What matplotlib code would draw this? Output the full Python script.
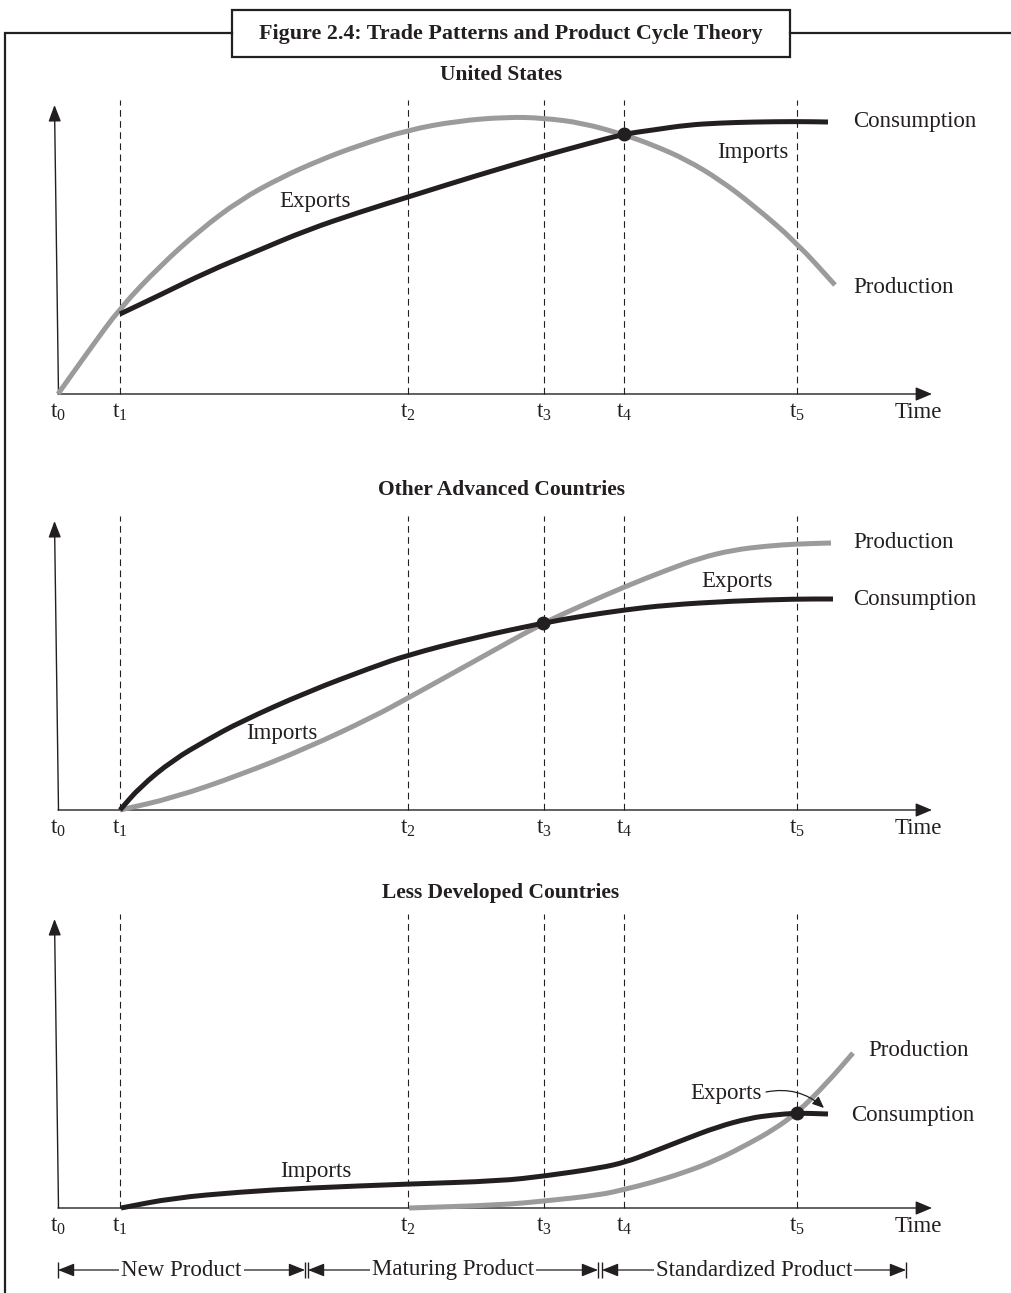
import matplotlib
matplotlib.use("Agg")
import matplotlib.pyplot as plt
from matplotlib.patches import Rectangle, PathPatch
from matplotlib.path import Path

plt.rcParams['font.family'] = ['Liberation Serif', 'DejaVu Serif']
plt.rcParams['mathtext.fontset'] = 'custom'
plt.rcParams['mathtext.rm'] = 'Liberation Serif'
plt.rcParams['mathtext.it'] = 'Liberation Serif:italic'
plt.rcParams['mathtext.bf'] = 'Liberation Serif:bold'

# ---------------- data ----------------
FIG_TITLE = "Figure 2.4: Trade Patterns and Product Cycle Theory"
panel_titles = ["United States", "Other Advanced Countries", "Less Developed Countries"]
tick_labels = [r'$\mathrm{t}_{0}$', r'$\mathrm{t}_{1}$', r'$\mathrm{t}_{2}$',
               r'$\mathrm{t}_{3}$', r'$\mathrm{t}_{4}$', r'$\mathrm{t}_{5}$']
tick_times = [0.0, 6.2, 35.0, 48.6, 56.6, 73.9]

# United States
us_prod_t = [0.0, 3.2, 6.2, 10.2, 14.2, 18.2, 22.2, 26.2, 30.2, 35.0, 39.9, 44.9,
             48.5, 52.5, 56.7, 59.5, 62.9, 66.2, 69.5, 73.8, 77.7]
us_prod_v = [0.0, 4.5, 8.6, 12.8, 16.4, 19.4, 21.6, 23.4, 24.9, 26.4, 27.3, 27.7,
             27.6, 27.1, 25.9, 24.9, 23.4, 21.4, 18.9, 15.2, 10.9]
us_cons_t = [6.2, 10.2, 14.9, 19.9, 24.9, 30.2, 35.0, 41.7, 48.5, 52.5, 56.6,
             59.5, 62.9, 66.2, 69.5, 73.8, 77.0]
us_cons_v = [8.0, 9.9, 12.2, 14.3, 16.4, 18.2, 19.7, 21.8, 23.8, 24.9, 26.0,
             26.4, 26.9, 27.1, 27.2, 27.25, 27.2]
us_cross = (56.6, 26.0)

# Other advanced countries
oa_prod_t = [6.2, 11.5, 18.2, 24.9, 31.5, 35.0, 41.5, 48.5, 52.5, 56.6, 60.9,
             64.2, 67.5, 70.9, 73.8, 77.3]
oa_prod_v = [0.0, 1.2, 3.5, 6.2, 9.3, 11.2, 14.8, 18.7, 20.5, 22.3, 24.0,
             25.2, 26.0, 26.4, 26.6, 26.7]
oa_cons_t = [6.2, 8.2, 11.5, 14.9, 18.2, 24.9, 31.5, 35.0, 41.5, 48.5, 52.5,
             56.6, 60.9, 67.5, 73.8, 77.5]
oa_cons_v = [0.0, 2.3, 5.0, 7.0, 8.8, 11.8, 14.3, 15.5, 17.2, 18.7, 19.4,
             20.0, 20.5, 20.9, 21.1, 21.1]
oa_cross = (48.5, 18.7)

# Less developed countries
ld_prod_t = [35.1, 44.2, 48.7, 54.2, 56.8, 59.2, 62.5, 65.9, 69.2, 71.5, 73.9, 76.9, 79.5]
ld_prod_v = [0.0, 0.3, 0.7, 1.3, 1.9, 2.5, 3.5, 4.8, 6.5, 7.8, 9.5, 12.5, 15.5]
ld_cons_t = [6.3, 11.5, 18.2, 24.9, 35.1, 44.2, 48.7, 54.2, 56.8, 59.2, 62.5,
             65.9, 69.2, 71.5, 73.9, 77.0]
ld_cons_v = [0.0, 1.0, 1.6, 2.0, 2.4, 2.7, 3.2, 4.0, 4.6, 5.5, 6.8,
             8.1, 9.0, 9.3, 9.5, 9.4]
ld_cross = (73.9, 9.5)

phases = ["New Product", "Maturing Product", "Standardized Product"]
phase_start = [0.0, 25.0, 54.4]
phase_end = [24.7, 54.0, 84.8]

# ---------------- layout / style ----------------
W, H = 1011, 1293
X0 = 58.0      # pixel x of time origin
U = 10.0       # pixels per unit
BLACK = '#231f20'
GREY = '#9b9b9b'
FS = 16.5
FS_B = 15.5

fig = plt.figure(figsize=(W / 100, H / 100), dpi=100)
fig.patch.set_facecolor('white')

# background frame and title box
bg = fig.add_axes([0, 0, 1, 1])
bg.set_xlim(0, W)
bg.set_ylim(H, 0)
bg.axis('off')
bg.plot([5, 5, 232], [H, 33, 33], color=BLACK, lw=1.6, solid_joinstyle='miter')
bg.plot([790, W], [33, 33], color=BLACK, lw=1.6)
bg.add_patch(Rectangle((232, 10), 558, 47, facecolor='white', edgecolor=BLACK, lw=1.6))
bg.text(511, 34, FIG_TITLE, ha='center', va='center', fontsize=FS_B + 0.3,
        fontweight='bold', color=BLACK)


def add_panel(axis_py, top_py, bottom_py):
    ax = fig.add_axes([0, 1 - bottom_py / H, 1, (bottom_py - top_py) / H])
    ax.set_xlim(-X0 / U, (W - X0) / U)
    ax.set_ylim((axis_py - bottom_py) / U, (axis_py - top_py) / U)
    ax.axis('off')
    return ax


def draw_frame(ax, title, title_v, ticks):
    ax.text(44.3, title_v, title, ha='center', va='center', fontsize=FS_B,
            fontweight='bold', color=BLACK)
    for t in ticks[1:]:
        ax.plot([t, t], [0, 29.4], color=BLACK, lw=0.8, linestyle=(0, (6, 4)), zorder=1)
    ax.annotate('', xy=(-0.35, 28.9), xytext=(0.05, 0),
                arrowprops=dict(arrowstyle='-|>,head_length=1.0,head_width=0.38',
                                mutation_scale=10, color=BLACK, lw=1.0,
                                shrinkA=0, shrinkB=0))
    ax.annotate('', xy=(87.4, 0), xytext=(0.0, 0),
                arrowprops=dict(arrowstyle='-|>,head_length=1.0,head_width=0.42',
                                mutation_scale=10, color=BLACK, lw=1.0,
                                shrinkA=0, shrinkB=0))
    for t, lab in zip(ticks, tick_labels):
        ax.text(t, -1.8, lab, ha='center', va='center', fontsize=FS, color=BLACK)
    ax.text(86.0, -1.8, 'Time', ha='center', va='center', fontsize=FS, color=BLACK)


def smooth_path(ts, vs):
    """Smooth curve through the read points using quadratic Bezier segments."""
    pts = list(zip(ts, vs))
    verts = [pts[0]]
    codes = [Path.MOVETO]
    if len(pts) == 2:
        verts.append(pts[1]); codes.append(Path.LINETO)
        return Path(verts, codes)
    mid = lambda a, b: ((a[0] + b[0]) / 2, (a[1] + b[1]) / 2)
    verts.append(mid(pts[0], pts[1])); codes.append(Path.LINETO)
    for i in range(1, len(pts) - 1):
        verts.append(pts[i]); codes.append(Path.CURVE3)
        verts.append(mid(pts[i], pts[i + 1])); codes.append(Path.CURVE3)
    verts.append(pts[-1]); codes.append(Path.LINETO)
    return Path(verts, codes)


def draw_curves(ax, pt, pv, ct, cv, cross):
    ax.add_patch(PathPatch(smooth_path(pt, pv), facecolor='none', edgecolor=GREY,
                           lw=3.6, capstyle='butt', zorder=3))
    ax.add_patch(PathPatch(smooth_path(ct, cv), facecolor='none', edgecolor=BLACK,
                           lw=3.6, capstyle='butt', zorder=4))
    ax.plot([cross[0]], [cross[1]], 'o', color=BLACK, ms=9, zorder=5)


# Panel 1: United States
ax1 = add_panel(394, 50, 450)
draw_frame(ax1, panel_titles[0], 31.9, tick_times)
draw_curves(ax1, us_prod_t, us_prod_v, us_cons_t, us_cons_v, us_cross)
ax1.text(79.5, 27.2, 'Consumption', ha='left', va='center', fontsize=FS, color=BLACK)
ax1.text(79.5, 10.6, 'Production', ha='left', va='center', fontsize=FS, color=BLACK)
ax1.text(69.5, 24.1, 'Imports', ha='center', va='center', fontsize=FS, color=BLACK)
ax1.text(25.7, 19.2, 'Exports', ha='center', va='center', fontsize=FS, color=BLACK)

# Panel 2: Other advanced countries
ax2 = add_panel(810, 465, 850)
draw_frame(ax2, panel_titles[1], 32.0, tick_times)
draw_curves(ax2, oa_prod_t, oa_prod_v, oa_cons_t, oa_cons_v, oa_cross)
ax2.text(79.5, 26.8, 'Production', ha='left', va='center', fontsize=FS, color=BLACK)
ax2.text(79.5, 21.0, 'Consumption', ha='left', va='center', fontsize=FS, color=BLACK)
ax2.text(67.9, 22.8, 'Exports', ha='center', va='center', fontsize=FS, color=BLACK)
ax2.text(22.4, 7.7, 'Imports', ha='center', va='center', fontsize=FS, color=BLACK)

# Panel 3: Less developed countries
ax3 = add_panel(1208, 865, H)
draw_frame(ax3, panel_titles[2], 31.5, tick_times)
draw_curves(ax3, ld_prod_t, ld_prod_v, ld_cons_t, ld_cons_v, ld_cross)
ax3.text(81.0, 15.8, 'Production', ha='left', va='center', fontsize=FS, color=BLACK)
ax3.text(79.3, 9.2, 'Consumption', ha='left', va='center', fontsize=FS, color=BLACK)
ax3.text(25.8, 3.6, 'Imports', ha='center', va='center', fontsize=FS, color=BLACK)
ax3.text(70.4, 11.5, 'Exports', ha='right', va='center', fontsize=FS, color=BLACK)
ax3.annotate('', xy=(76.6, 10.0), xytext=(70.8, 11.6),
             arrowprops=dict(arrowstyle='-|>,head_length=0.7,head_width=0.3',
                             mutation_scale=10, color=BLACK, lw=0.9,
                             connectionstyle='arc3,rad=-0.25', shrinkA=0, shrinkB=0),
             zorder=6)

# phase arrows
PV = -6.2
for name, s, e in zip(phases, phase_start, phase_end):
    ax3.annotate('', xy=(e, PV), xytext=(s, PV),
                 arrowprops=dict(arrowstyle='<|-|>,head_length=1.0,head_width=0.4',
                                 mutation_scale=10, color=BLACK, lw=0.9,
                                 shrinkA=0, shrinkB=0))
    ax3.plot([s, e], [PV, PV], linestyle='none', marker='|', ms=11, mew=1.0, color=BLACK)
    ax3.text((s + e) / 2, PV, name, ha='center', va='center', fontsize=FS,
             color=BLACK, bbox=dict(facecolor='white', edgecolor='none', pad=1.5), zorder=5)

fig.savefig('out.png', dpi=100, facecolor='white')
